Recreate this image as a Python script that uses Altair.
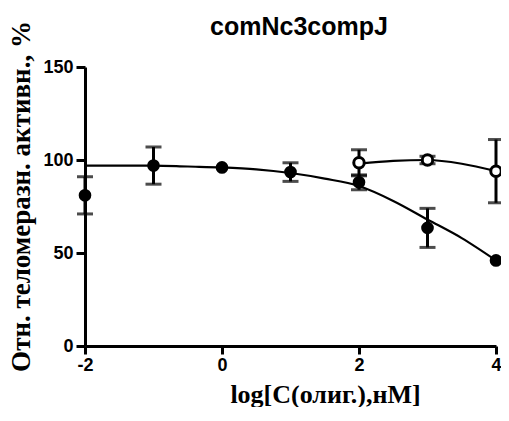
import altair as alt
import pandas as pd

# Measured points (filled circles)
x_filled = [-2, -1, 0, 1, 2, 3, 4]
y_filled = [81, 97, 96, 93.5, 88, 63.5, 46]
err_filled = [10, 10, 0, 5, 4, 10.5, 0]

# Measured points (open circles)
x_open = [2, 3, 4]
y_open = [98.5, 100, 94]
err_open = [7, 2, 17]

# Fitted curves
cx_filled = [-2, -1.5, -1, -0.5, 0, 0.5, 1, 1.5, 2, 2.5, 3, 3.5, 4]
cy_filled = [97, 97, 97, 96.5, 96, 95, 93, 90, 86, 78, 68, 58, 46]
cx_open = [2, 2.5, 3, 3.5, 4]
cy_open = [98, 99.5, 100, 98, 94]

x_ticks = [-2, 0, 2, 4]
y_ticks = [0, 50, 100, 150]
chart_title = ["comNc3compJ"]

pts = pd.DataFrame({
    "x": x_filled + x_open,
    "y": y_filled + y_open,
    "err": err_filled + err_open,
    "s": ["filled"] * len(x_filled) + ["open"] * len(x_open),
})
pts["lo"] = pts["y"] - pts["err"]
pts["hi"] = pts["y"] + pts["err"]
bars = pts[pts["err"] > 0]

curve = pd.DataFrame({
    "x": cx_filled + cx_open,
    "y": cy_filled + cy_open,
    "s": ["filled"] * len(cx_filled) + ["open"] * len(cx_open),
})

xs = alt.Scale(domain=[-2, 4], nice=False, zero=False)
ys = alt.Scale(domain=[0, 150], nice=False)

PW = 411

xaxis = alt.Axis(
    values=x_ticks, title="log[C(олиг.),нМ]", grid=False,
    labelExpr="'' + datum.value",
    domainWidth=3, domainColor="black", tickWidth=3, tickColor="black", tickSize=8,
    labelFont="Liberation Sans", labelFontWeight="bold", labelFontSize=18, labelColor="black",
    labelPadding=2, labelFlush=False,
    titleFont="Liberation Serif", titleFontWeight="bold", titleFontSize=26, titleColor="black",
    titleX=240, titleY=56, titleBaseline="alphabetic", titleAnchor="middle", titleAlign="center",
)
yaxis = alt.Axis(
    values=y_ticks, title="Отн. теломеразн. активн., %", grid=False,
    labelExpr="'' + datum.value",
    domainWidth=3, domainColor="black", tickWidth=3, tickColor="black", tickSize=9,
    labelFont="Liberation Sans", labelFontWeight="bold", labelFontSize=18, labelColor="black",
    labelPadding=3,
    titleFont="Liberation Serif", titleFontWeight="bold", titleFontSize=27, titleColor="black",
    titleX=-56, titleY=129, titleBaseline="alphabetic", titleAlign="center", titleAngle=270,
)

base_x = alt.X("x:Q", scale=xs, axis=xaxis)
base_y = alt.Y("y:Q", scale=ys, axis=yaxis)

lines = alt.Chart(curve).mark_line(color="black", strokeWidth=2.2, interpolate="monotone").encode(
    x=base_x, y=base_y, detail="s:N"
)

rules = alt.Chart(bars).mark_rule(color="black", strokeWidth=3).encode(
    x=alt.X("x:Q", scale=xs), y=alt.Y("lo:Q", scale=ys), y2="hi:Q"
)
caps_hi = alt.Chart(bars).mark_tick(color="black", orient="horizontal", size=16, thickness=3).encode(
    x=alt.X("x:Q", scale=xs), y=alt.Y("hi:Q", scale=ys)
)
caps_lo = alt.Chart(bars).mark_tick(color="black", orient="horizontal", size=16, thickness=3).encode(
    x=alt.X("x:Q", scale=xs), y=alt.Y("lo:Q", scale=ys)
)

filled = alt.Chart(pts[pts["s"] == "filled"]).mark_point(
    filled=True, shape="circle", size=160, color="black", opacity=1
).encode(x=alt.X("x:Q", scale=xs), y=alt.Y("y:Q", scale=ys))

opened = alt.Chart(pts[pts["s"] == "open"]).mark_point(
    filled=False, shape="circle", size=110, stroke="black", fill="white", strokeWidth=3, opacity=1, fillOpacity=1
).encode(x=alt.X("x:Q", scale=xs), y=alt.Y("y:Q", scale=ys))

title_mark = alt.Chart(pd.DataFrame({"t": chart_title})).mark_text(
    font="Liberation Sans", fontWeight="bold", fontSize=25, color="black",
    align="center", baseline="alphabetic",
).encode(x=alt.value(214), y=alt.value(-32), text="t:N")

chart = alt.layer(lines, rules, caps_hi, caps_lo, filled, opened, title_mark).properties(
    width=PW, height=279,
    autosize=alt.AutoSizeParams(type="none"),
    padding={"left": 77, "top": 59, "right": 5, "bottom": 61},
    background="white",
).configure_view(stroke=None)

chart.save("out.html", embed_options={"renderer": "svg", "actions": False})
